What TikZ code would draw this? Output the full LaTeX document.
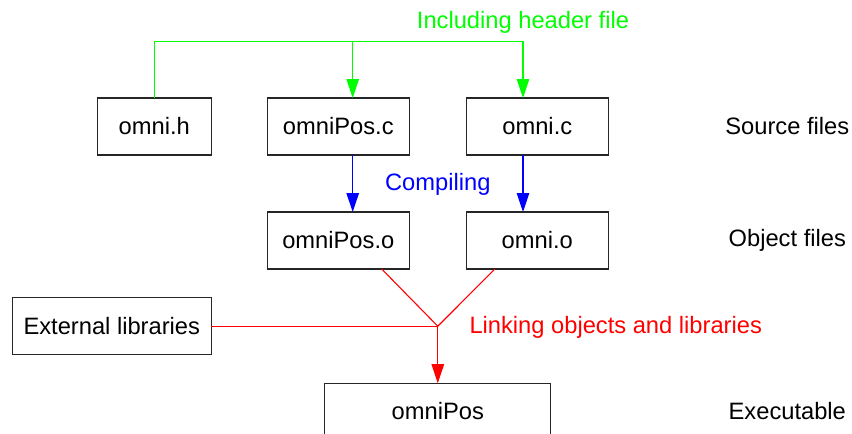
\documentclass[tikz,border=0pt]{standalone}
\usepackage{fontspec}
\setmainfont{Liberation Sans}
\usetikzlibrary{positioning,calc,arrows.meta}

\tikzset{
  file/.style={draw=black!85, line width=1.2pt, outer sep=0pt, inner sep=0pt,
    minimum height=57pt, font=\fontsize{23.7}{28}\selectfont},
  stage/.style={inner sep=0pt, font=\fontsize{23.7}{28}\selectfont},
  flow/.style={-{Triangle[length=19pt,width=12.5pt]}},
  incl/.style={green, line width=1.1pt},
  comp/.style={blue, line width=1.1pt, flow},
  link/.style={red, line width=1.1pt},
}

\begin{document}
\begin{tikzpicture}[x=1pt,y=1pt]
  \useasboundingbox (0,0) rectangle (852,-434);
  % source files
  \node[file, minimum width=142pt] (omniPosC) at (338.3,-126.5) {omniPos.c};
  \node[file, minimum width=114pt, left=56pt of omniPosC] (omniH) {omni.h};
  \node[file, minimum width=142pt, right=57pt of omniPosC] (omniC) {omni.c};
  % object files
  \node[file, minimum width=142pt, below=57pt of omniPosC] (omniPosO) {omniPos.o};
  \node[file, minimum width=142pt, below=57pt of omniC] (omniO) {omni.o};
  \node[file, minimum width=199pt, below left=28.7pt and 56pt of omniPosO.south west] (extlib) {External libraries};
  % executable
  \coordinate (mid) at ($(omniPosO.south)!0.5!(omniO.south)$);
  \coordinate (join) at (mid |- extlib.east);
  \node[file, minimum width=226pt, minimum height=56pt, below=57pt of join] (omniPos) {omniPos};

  % including
  \coordinate (pc) at ([xshift=14.4pt]omniPosC.north);
  \coordinate (oc) at ([xshift=-14.3pt]omniC.north);
  \coordinate[above=56.5pt of oc] (hdr);
  \draw[incl, flow] (omniH.north) |- (hdr) -- (oc);
  \draw[incl, flow] (pc |- hdr) -- (pc);
  \node[stage, text=green, anchor=base] (inclabel) at ([yshift=12.7pt]hdr) {Including header file};
  % compiling
  \draw[comp] (pc |- omniPosC.south) -- (pc |- omniPosO.north);
  \draw[comp] (oc |- omniC.south) -- (oc |- omniO.north);
  \node[stage, text=blue, anchor=base] (complabel) at ([yshift=-35.7pt]$(omniPosC.south)!0.5!(omniC.south)$) {Compiling};
  % linking
  \draw[link] ([xshift=43.4pt]omniPosO.south) -- (join) -- ([xshift=-42.4pt]omniO.south);
  \draw[link] (extlib.east) -- (join);
  \draw[link, flow] (join) -- (omniPos.north);
  \node[stage, text=red, anchor=base west] (linklabel) at ([xshift=31.5pt,yshift=-7.5pt]join) {Linking objects and libraries};

  % stages
  \node[stage] (src) at ([xshift=250pt]omniC.center) {Source files};
  \node[stage] (obj) at ([xshift=250pt]omniO.center) {Object files};
  \node[stage] (exe) at (omniPos -| obj) {Executable};
\end{tikzpicture}
\end{document}
